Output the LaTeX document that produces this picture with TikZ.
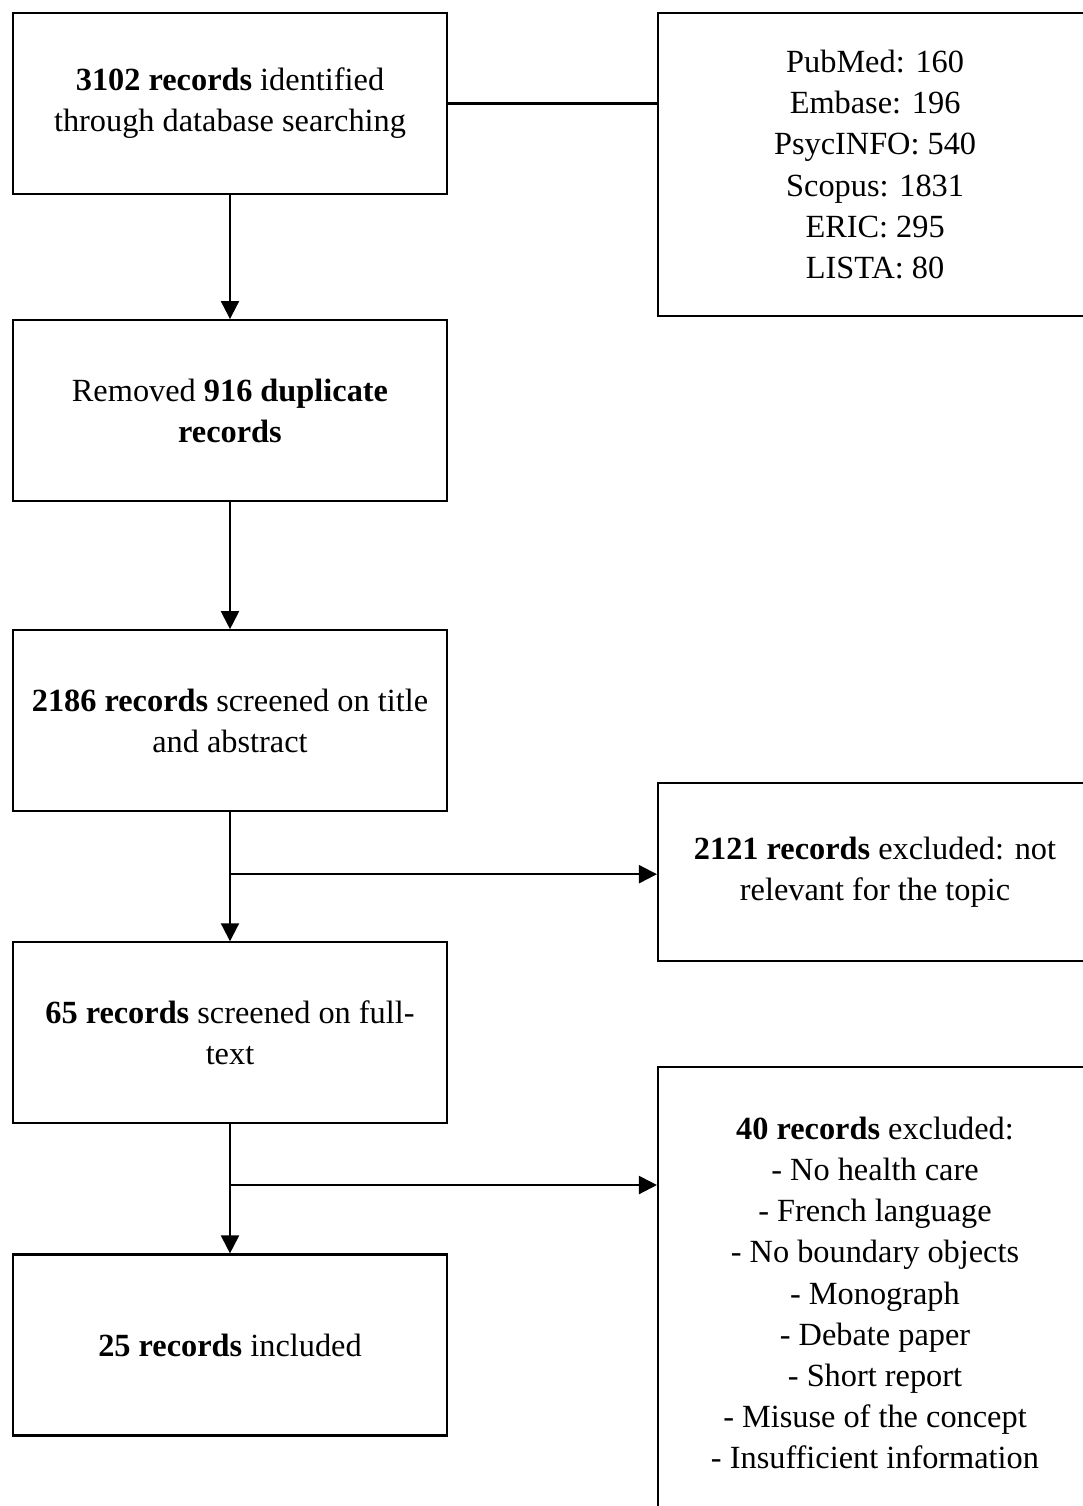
\documentclass[tikz,border=0pt]{standalone}
\usepackage{fontspec}
\setmainfont{Liberation Serif}
\usetikzlibrary{arrows.meta, positioning}
\tikzset{
  stage/.style={draw, line width=0.6pt, minimum width=4.34cm, minimum height=1.81cm, align=center, inner sep=2pt, font=\fontsize{9.2}{11.7}\selectfont},
  flow/.style={-{Triangle[length=1.8mm,width=1.8mm]}, line width=0.6pt},
  link/.style={line width=0.6pt},
}

\begin{document}
\begin{tikzpicture}
\useasboundingbox (0,0) rectangle (10.83,-15.06);
% main column
\node[stage] (b1) at (2.30,-1.035) {\textbf{3102 records} identified\\through database searching};
\node[stage, below=1.24cm of b1] (b2) {Removed \textbf{916 duplicate}\\\textbf{records}};
\node[stage, below=1.27cm of b2] (b3) {\textbf{2186 records} screened on title\\and abstract};
\node[stage, below=1.29cm of b3] (b4) {\textbf{65 records} screened on full-\\text};
\node[stage, below=1.29cm of b4] (b5) {\textbf{25 records} included};
% side boxes
\node[stage, minimum height=3.03cm, right=2.09cm of b1.north east, anchor=north west] (r1) {PubMed: 160\\Embase: 196\\PsycINFO: 540\\Scopus: 1831\\ERIC: 295\\LISTA: 80};
\node[stage, minimum height=1.78cm] (r2) at (8.75,-8.72) {\textbf{2121 records} excluded: not\\relevant for the topic};
\node[stage, minimum height=4.52cm] (r3) at (8.75,-12.93) {\textbf{40 records} excluded:\\- No health care\\- French language\\- No boundary objects\\- Monograph\\- Debate paper\\- Short report\\- Misuse of the concept\\- Insufficient information};
% connectors
\draw[link] (b1.east) -- (b1.east -| r1.west);
\draw[flow] (b1) -- (b2);
\draw[flow] (b2) -- (b3);
\draw[flow] (b3) -- coordinate[pos=.48] (split3) (b4);
\draw[flow] (b4) -- coordinate[pos=.47] (split4) (b5);
\draw[flow] (split3) -- (split3 -| r2.west);
\draw[flow] (split4) -- (split4 -| r3.west);
\end{tikzpicture}
\end{document}
